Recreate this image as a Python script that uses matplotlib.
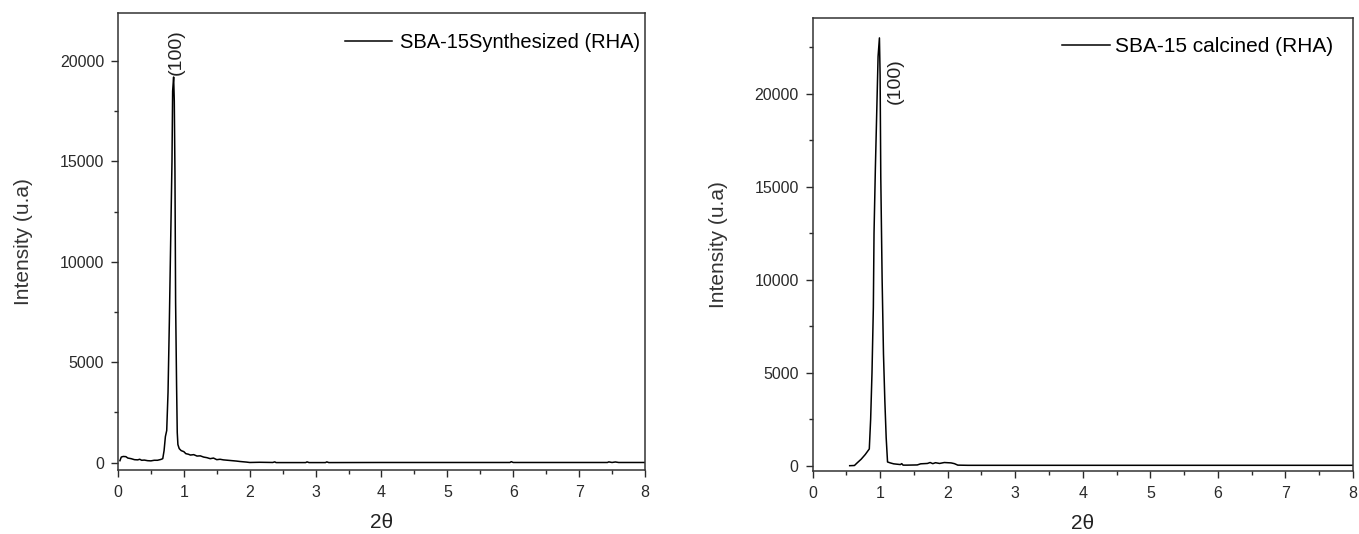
import numpy as np
import matplotlib
matplotlib.use("Agg")
import matplotlib.pyplot as plt
from matplotlib.ticker import MultipleLocator

plt.rcParams['font.family'] = ['Liberation Sans', 'DejaVu Sans']

# synthesized sample
x_syn = [0.03, 0.05, 0.08, 0.12, 0.15, 0.2, 0.25, 0.3, 0.33, 0.36, 0.4, 0.45, 0.5,
         0.55, 0.6, 0.65, 0.68, 0.7, 0.72, 0.74, 0.76, 0.78, 0.8, 0.82, 0.83, 0.845,
         0.855, 0.865, 0.875, 0.89, 0.9, 0.91, 0.93, 0.96, 1.0, 1.03, 1.07, 1.1, 1.15,
         1.2, 1.25, 1.3, 1.35, 1.4, 1.45, 1.5, 1.55, 1.6, 1.7, 1.8, 1.85, 1.95, 2.0,
         2.15, 2.35, 2.38, 2.4, 2.85, 2.87, 2.9, 3.15, 3.17, 3.2, 4.0, 5.95, 5.97, 6.0,
         7.43, 7.45, 7.5, 7.55, 7.6, 8.0]
y_syn = [100, 280, 310, 300, 230, 200, 150, 140, 170, 120, 130, 100, 90,
         120, 120, 160, 200, 600, 1300, 1600, 3500, 7000, 11000, 15000, 18500, 19200,
         18000, 14500, 8000, 3800, 1500, 900, 700, 600, 550, 450, 420, 380, 400,
         330, 340, 280, 250, 200, 230, 150, 170, 140, 110, 80, 60, 30, 10,
         20, 10, 40, 5, 5, 40, 5, 5, 40, 5, 10, 10, 50, 10,
         10, 40, 10, 35, 10, 10]

# calcined sample
x_cal = [0.55, 0.62, 0.66, 0.72, 0.78, 0.84, 0.86, 0.88, 0.9, 0.91, 0.93, 0.95, 0.97,
         0.99, 1.0, 1.01, 1.03, 1.05, 1.07, 1.09, 1.11, 1.15, 1.2, 1.25, 1.3, 1.32,
         1.34, 1.4, 1.55, 1.6, 1.7, 1.74, 1.78, 1.82, 1.88, 1.95, 2.0, 2.05, 2.1, 2.15,
         2.3, 8.0]
y_cal = [0, 10, 150, 350, 600, 900, 2500, 5000, 8500, 12500, 16000, 19000, 22000,
         23000, 21000, 15500, 10000, 6000, 3500, 1500, 200, 150, 100, 80, 60, 110,
         30, 30, 40, 100, 120, 170, 110, 160, 120, 170, 160, 150, 110, 30,
         20, 20]

fig = plt.figure(figsize=(13.59, 5.34), dpi=100)
ax1 = fig.add_axes([0.0868, 0.1199, 0.3878, 0.8564])
ax2 = fig.add_axes([0.5979, 0.118, 0.3977, 0.8483])

panels = [
    # axes, x, y, label, ylim, (100) position, legend anchor, legend size, handletextpad
    (ax1, x_syn, y_syn, "SBA-15Synthesized (RHA)", (-363, 22405), (0.88, 19300),
     (0.9905, 0.934), 14.5, 0.4),
    (ax2, x_cal, y_cal, "SBA-15 calcined (RHA)", (-285, 24070), (1.22, 19460),
     (0.963, 0.936), 15, 0.25),
]

for ax, x, y, lab, ylim, ann, anchor, lsize, htp in panels:
    ax.plot(x, y, color='black', lw=1.1, label=lab)
    ax.set_xlim(0, 8)
    ax.set_ylim(*ylim)
    ax.xaxis.set_major_locator(MultipleLocator(1))
    ax.xaxis.set_minor_locator(MultipleLocator(0.5))
    ax.yaxis.set_major_locator(MultipleLocator(5000))
    ax.yaxis.set_minor_locator(MultipleLocator(2500))
    ax.tick_params(which='both', direction='out', top=False, right=False,
                   labelsize=11.5, colors='#2a2a2a', width=1.0)
    ax.tick_params(which='major', length=5)
    ax.tick_params(which='minor', length=3)
    ax.tick_params(axis='x', pad=6)
    ax.tick_params(axis='y', pad=5)
    for s in ax.spines.values():
        s.set_linewidth(1.1)
        s.set_color('#333333')
    ax.set_xlabel("2θ", fontsize=15, labelpad=9, color='#222222')
    ax.set_ylabel("Intensity (u.a)", fontsize=15, labelpad=19, color='#333333')
    ax.legend(loc='center right', bbox_to_anchor=anchor, frameon=False,
              fontsize=lsize, handlelength=2.3, handletextpad=htp,
              borderpad=0, borderaxespad=0)
    ax.text(ann[0], ann[1], "(100)", rotation=90, ha='center', va='bottom',
            fontsize=14, color='#222222')

fig.savefig("out.png", dpi=100)
